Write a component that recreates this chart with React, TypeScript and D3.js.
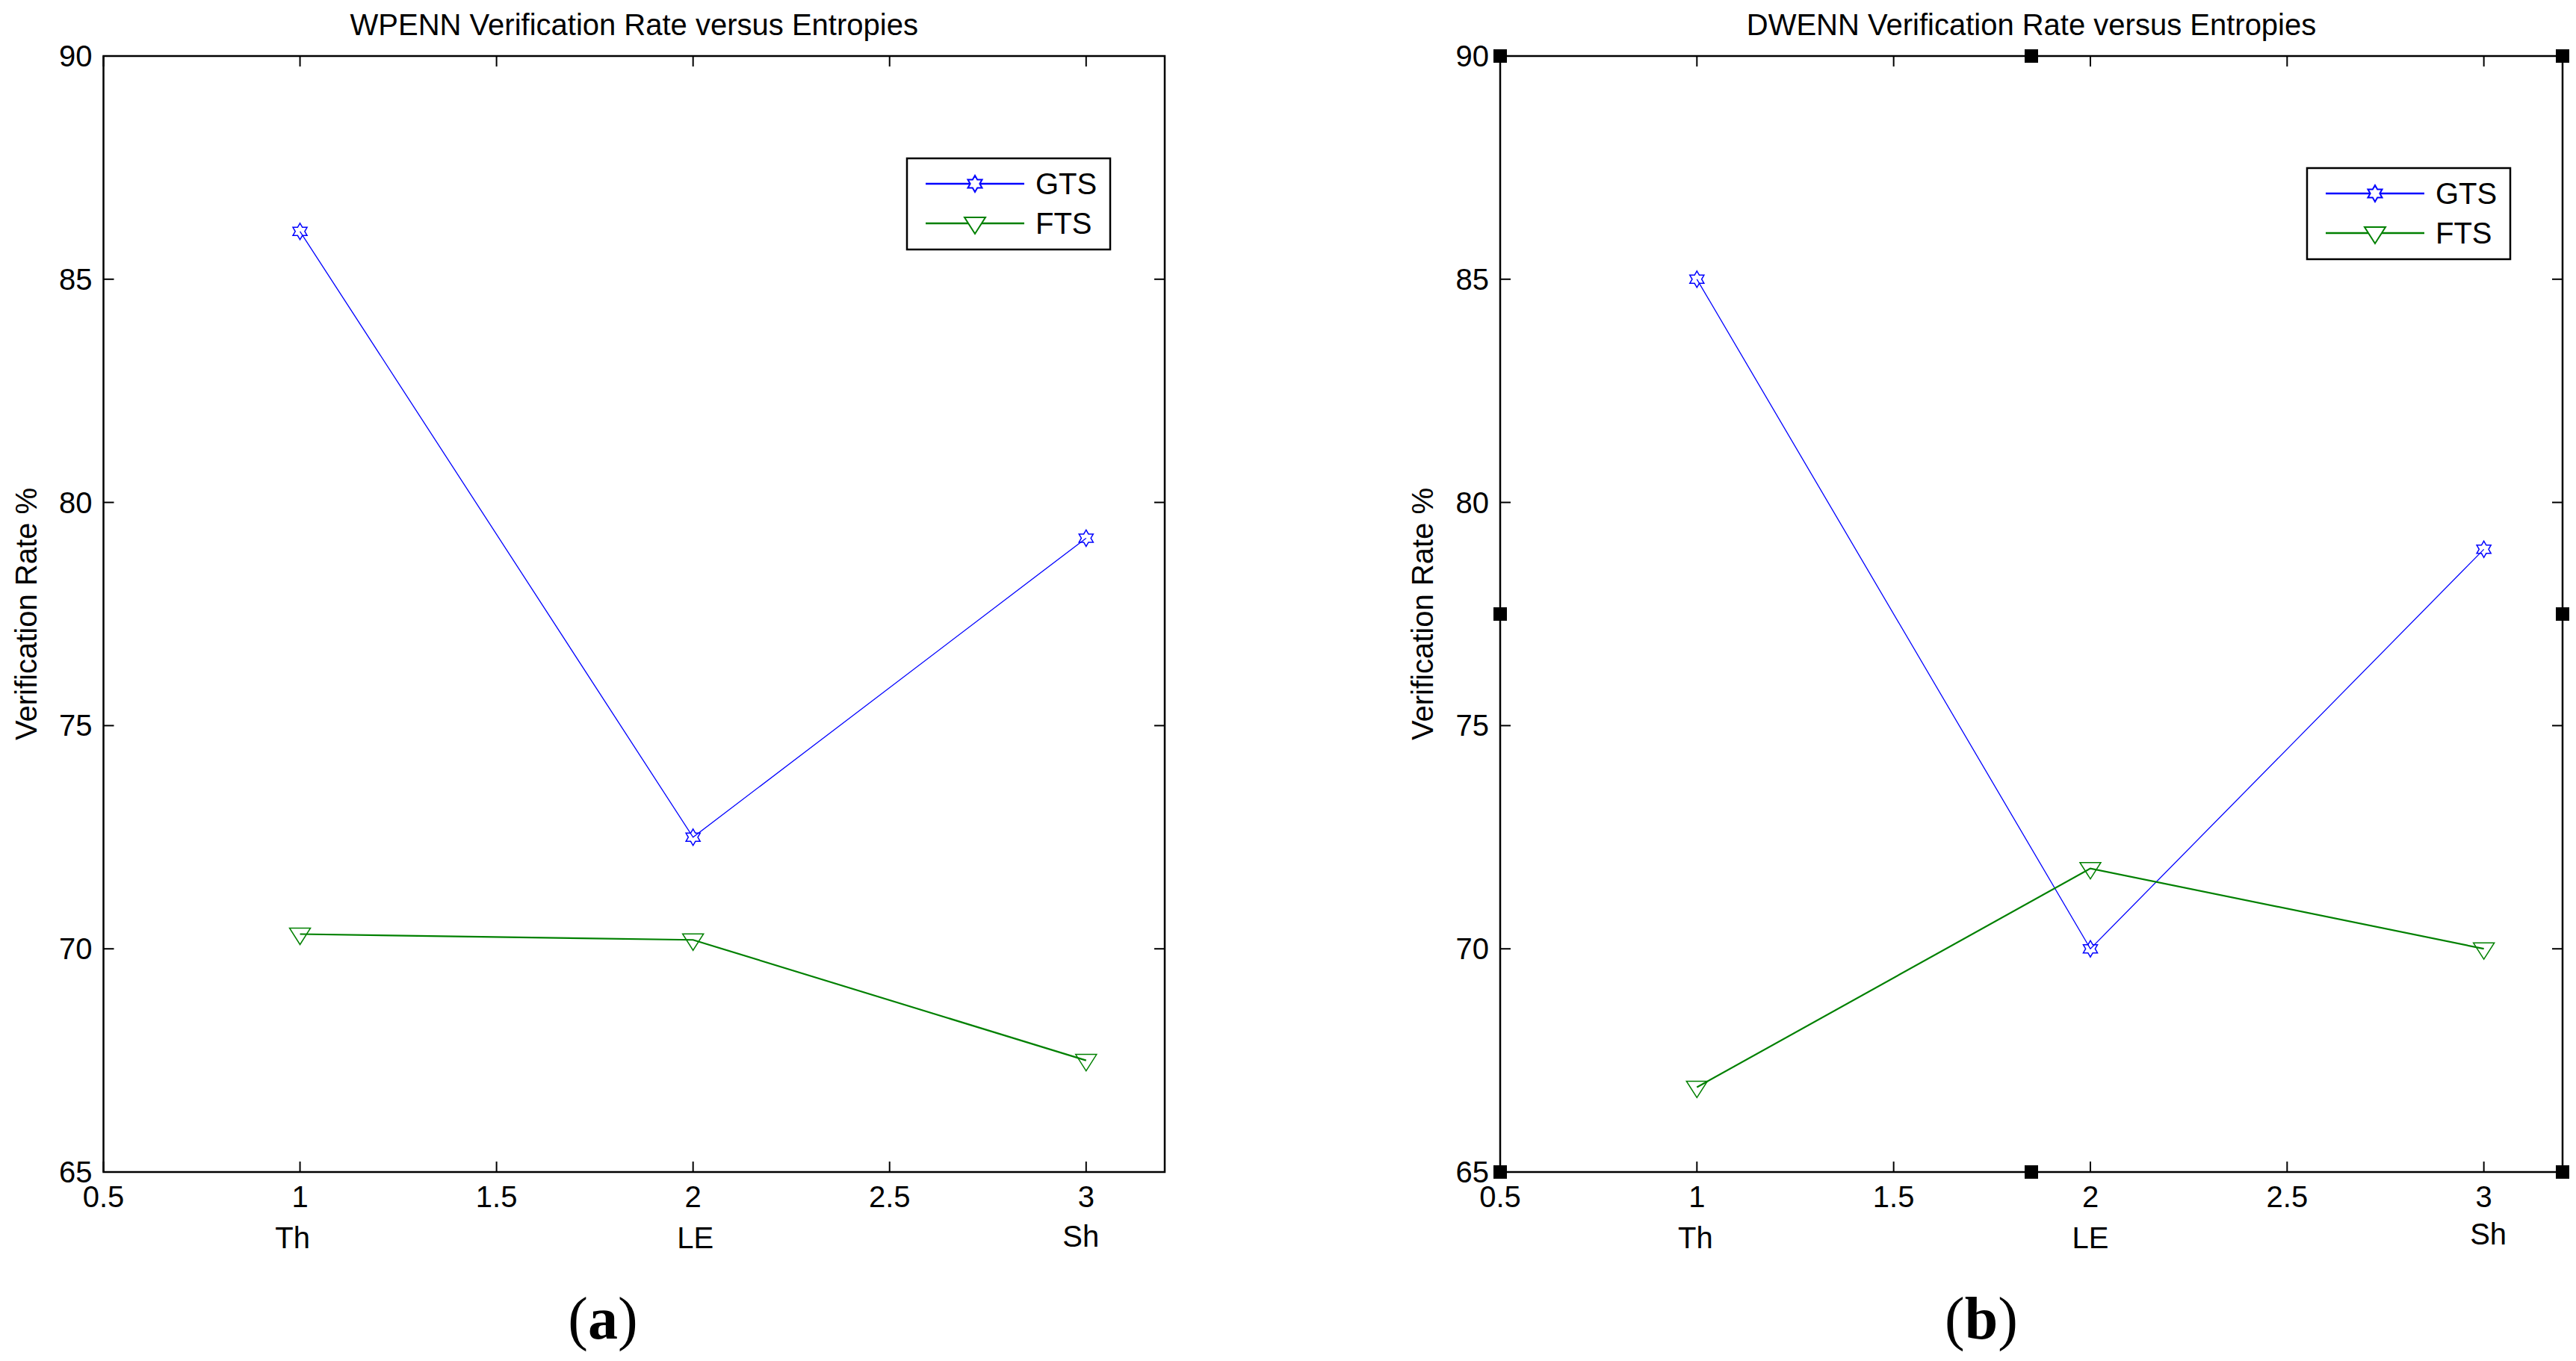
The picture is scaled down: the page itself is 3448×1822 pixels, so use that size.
import * as d3 from "d3";

const categories = ["Th", "LE", "Sh"];
const xPositions = [1, 2, 3];
const xTicks = [0.5, 1, 1.5, 2, 2.5, 3];
const yTicks = [65, 70, 75, 80, 85, 90];
const seriesNames = ["GTS", "FTS"];

const wpennGTS = [86.07, 72.5, 79.2];
const wpennFTS = [70.33, 70.2, 67.5];
const dwennGTS = [85.0, 70.0, 78.95];
const dwennFTS = [66.9, 71.8, 70.0];

const WIDTH = 3448;
const HEIGHT = 1822;
const TOP = 75;
const BOTTOM = 1569;
const FONT = "'Liberation Sans', Arial, sans-serif";
const BLUE = "#0000ff";
const GREEN = "#008000";

function hexagramPath(r: number) {
  const pts: [number, number][] = [];
  const inner = r / Math.sqrt(3);
  for (let i = 0; i < 12; i++) {
    const a = (Math.PI / 6) * i - Math.PI / 2;
    const rad = i % 2 === 0 ? r : inner;
    pts.push([rad * Math.cos(a), rad * Math.sin(a)]);
  }
  return "M" + pts.map((p) => p.join(",")).join("L") + "Z";
}

const triangleDown = "M-14,-8L14,-8L0,14Z";
const hexagram = hexagramPath(11);

interface PanelProps {
  title: string;
  left: number;
  right: number;
  gts: number[];
  fts: number[];
  legendX: number;
  legendY: number;
  caption: string;
  captionX: number;
  labelShift: [number, number][];
  handles?: boolean;
}

function Panel({ title, left, right, gts, fts, legendX, legendY, caption, captionX, labelShift, handles }: PanelProps) {
  const x = d3.scaleLinear().domain([0.5, 3.2]).range([left, right]);
  const y = d3.scaleLinear().domain([65, 90]).range([BOTTOM, TOP]);
  const line = d3
    .line<number>()
    .x((_, i) => x(xPositions[i]))
    .y((d) => y(d));
  const tick = 14;
  const midX = (left + right) / 2;
  const midY = (TOP + BOTTOM) / 2;
  const series = [
    { name: seriesNames[0], values: gts, color: BLUE, marker: hexagram, width: 1.3 },
    { name: seriesNames[1], values: fts, color: GREEN, marker: triangleDown, width: 2.2 },
  ];

  return (
    <g>
      <text x={midX} y={47} textAnchor="middle" fontFamily={FONT} fontSize={40}>
        {title}
      </text>
      <rect x={left} y={TOP} width={right - left} height={BOTTOM - TOP} fill="white" stroke="black" strokeWidth={2.5} />
      {xTicks.map((t) => (
        <g key={`x${t}`}>
          <line x1={x(t)} x2={x(t)} y1={BOTTOM} y2={BOTTOM - tick} stroke="black" strokeWidth={2} />
          <line x1={x(t)} x2={x(t)} y1={TOP} y2={TOP + tick} stroke="black" strokeWidth={2} />
          <text x={x(t)} y={BOTTOM + 47} textAnchor="middle" fontFamily={FONT} fontSize={40}>
            {t}
          </text>
        </g>
      ))}
      {yTicks.map((t) => (
        <g key={`y${t}`}>
          <line x1={left} x2={left + tick} y1={y(t)} y2={y(t)} stroke="black" strokeWidth={2} />
          <line x1={right} x2={right - tick} y1={y(t)} y2={y(t)} stroke="black" strokeWidth={2} />
          <text x={left - 15} y={y(t) + 14} textAnchor="end" fontFamily={FONT} fontSize={40}>
            {t}
          </text>
        </g>
      ))}
      {categories.map((c, i) => (
        <text
          key={c}
          x={x(xPositions[i]) + labelShift[i][0]}
          y={BOTTOM + 102 + labelShift[i][1]}
          textAnchor="middle"
          fontFamily={FONT}
          fontSize={40}
        >
          {c}
        </text>
      ))}
      <text
        transform={`translate(${left - 90}, ${midY}) rotate(-90)`}
        textAnchor="middle"
        fontFamily={FONT}
        fontSize={40}
      >
        Verification Rate %
      </text>
      {series.map((s) => (
        <g key={s.name}>
          <path d={line(s.values) ?? ""} fill="none" stroke={s.color} strokeWidth={s.width} />
          {s.values.map((v, i) => (
            <path
              key={i}
              d={s.marker}
              transform={`translate(${x(xPositions[i])}, ${y(v)})`}
              fill="none"
              stroke={s.color}
              strokeWidth={1.5}
            />
          ))}
        </g>
      ))}
      <g transform={`translate(${legendX}, ${legendY})`}>
        <rect x={0} y={0} width={272} height={122} fill="white" stroke="black" strokeWidth={2.5} />
        {series.map((s, i) => {
          const rowY = 34 + i * 53;
          return (
            <g key={s.name}>
              <line x1={25} x2={157} y1={rowY} y2={rowY} stroke={s.color} strokeWidth={2.5} />
              <path d={s.marker} transform={`translate(91, ${rowY})`} fill="white" stroke={s.color} strokeWidth={2} />
              <text x={172} y={rowY + 14} fontFamily={FONT} fontSize={40}>
                {s.name}
              </text>
            </g>
          );
        })}
      </g>
      {handles &&
        [
          [left, TOP],
          [midX, TOP],
          [right, TOP],
          [left, midY],
          [right, midY],
          [left, BOTTOM],
          [midX, BOTTOM],
          [right, BOTTOM],
        ].map(([hx, hy], i) => <rect key={i} x={hx - 9} y={hy - 9} width={18} height={18} fill="black" />)}
      <text x={captionX} y={1792} textAnchor="middle" fontFamily="'Liberation Serif', 'Times New Roman', serif" fontSize={80}>
        (<tspan fontWeight="bold">{caption}</tspan>)
      </text>
    </g>
  );
}

export default function App() {
  return (
    <div style={{ position: "absolute", left: 0, top: 0 }}>
      <svg width={WIDTH} height={HEIGHT} viewBox={`0 0 ${WIDTH} ${HEIGHT}`} style={{ display: "block", background: "white" }}>
        <rect width={WIDTH} height={HEIGHT} fill="white" />
        <Panel
          title="WPENN Verification Rate versus Entropies"
          left={138.5}
          right={1559}
          gts={wpennGTS}
          fts={wpennFTS}
          legendX={1214}
          legendY={212}
          caption="a"
          captionX={807}
          labelShift={[[-10, 0], [3, 0], [-7, -2]]}
        />
        <Panel
          title="DWENN Verification Rate versus Entropies"
          left={2008}
          right={3430}
          gts={dwennGTS}
          fts={dwennFTS}
          legendX={3088}
          legendY={225}
          caption="b"
          captionX={2652}
          labelShift={[[-2, 0], [0, 0], [6, -5]]}
          handles
        />
      </svg>
    </div>
  );
}
